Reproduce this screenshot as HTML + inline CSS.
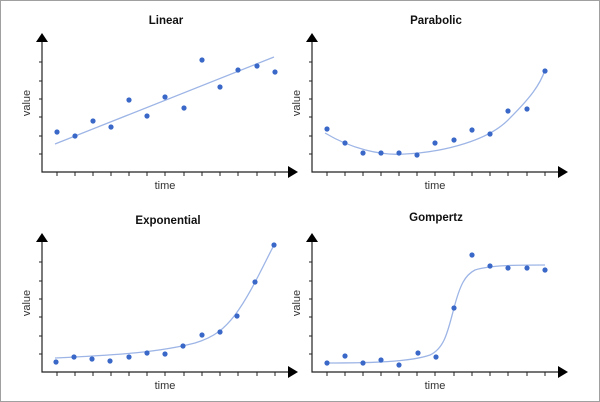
<!DOCTYPE html><html><head><style>body{margin:0;background:#fff}svg{display:block}text{font-family:"Liberation Sans",sans-serif}</style></head><body>
<svg width="600" height="402" viewBox="0 0 600 402">
<rect x="0.5" y="0.5" width="599" height="401" fill="#fff" stroke="#a0a0a0"/>
<defs>
<g id="ax">
<path d="M42 40V172H290" fill="none" stroke="#222" stroke-width="1.2"/>
<path d="M36 42L42 33L48 42Z M288 166L298 172L288 178Z" fill="#000"/>
<g stroke="#222" stroke-width="1">
<path d="M42 62h-3M42 81h-3M42 99h-3M42 117h-3M42 136h-3M42 154h-3"/>
<path d="M57 172v4M75 172v4M93 172v4M111 172v4M129 172v4M147 172v4M165 172v4M184 172v4M202 172v4M220 172v4M238 172v4M257 172v4M275 172v4"/>
</g>
<text x="165" y="189" font-size="11" text-anchor="middle" fill="#333">time</text>
<text transform="translate(30 103) rotate(-90)" font-size="11" text-anchor="middle" fill="#333">value</text>
</g>
</defs>
<g fill="#3a68c8">
<use href="#ax"/>
<text x="166" y="24" font-size="11.5" font-weight="bold" text-anchor="middle" fill="#111">Linear</text>
<path d="M55 144L274 57" stroke="#9db5e6" stroke-width="1.3" fill="none"/>
<circle cx="57" cy="132" r="2.6"/><circle cx="75" cy="136" r="2.6"/><circle cx="93" cy="121" r="2.6"/><circle cx="111" cy="127" r="2.6"/><circle cx="129" cy="100" r="2.6"/><circle cx="147" cy="116" r="2.6"/><circle cx="165" cy="97" r="2.6"/><circle cx="184" cy="108" r="2.6"/><circle cx="202" cy="60" r="2.6"/><circle cx="220" cy="87" r="2.6"/><circle cx="238" cy="70" r="2.6"/><circle cx="257" cy="66" r="2.6"/><circle cx="275" cy="72" r="2.6"/>
</g>
<g fill="#3a68c8" transform="translate(270 0)">
<use href="#ax"/>
<text x="166" y="24" font-size="11.5" font-weight="bold" text-anchor="middle" fill="#111">Parabolic</text>
<path d="M55 133C80 148 110 156 135 154C175 152 220 140 240 118C260 98 270 85 275 70" stroke="#9db5e6" stroke-width="1.3" fill="none"/>
<circle cx="57" cy="129" r="2.6"/><circle cx="75" cy="143" r="2.6"/><circle cx="93" cy="153" r="2.6"/><circle cx="111" cy="153" r="2.6"/><circle cx="129" cy="153" r="2.6"/><circle cx="147" cy="155" r="2.6"/><circle cx="165" cy="143" r="2.6"/><circle cx="184" cy="140" r="2.6"/><circle cx="202" cy="130" r="2.6"/><circle cx="220" cy="134" r="2.6"/><circle cx="238" cy="111" r="2.6"/><circle cx="257" cy="109" r="2.6"/><circle cx="275" cy="71" r="2.6"/>
</g>
<g fill="#3a68c8" transform="translate(0 200)">
<use href="#ax"/>
<text x="168" y="24" font-size="11.5" font-weight="bold" text-anchor="middle" fill="#111">Exponential</text>
<path d="M55 158C120 155 160 152 195 143C215 137 225 128 235 115C250 95 262 68 274 45" stroke="#9db5e6" stroke-width="1.3" fill="none"/>
<circle cx="56" cy="162" r="2.6"/><circle cx="74" cy="157" r="2.6"/><circle cx="92" cy="159" r="2.6"/><circle cx="110" cy="161" r="2.6"/><circle cx="129" cy="157" r="2.6"/><circle cx="147" cy="153" r="2.6"/><circle cx="165" cy="154" r="2.6"/><circle cx="183" cy="146" r="2.6"/><circle cx="202" cy="135" r="2.6"/><circle cx="220" cy="132" r="2.6"/><circle cx="237" cy="116" r="2.6"/><circle cx="255" cy="82" r="2.6"/><circle cx="274" cy="45" r="2.6"/>
</g>
<g fill="#3a68c8" transform="translate(270 200)">
<use href="#ax"/>
<text x="166" y="21" font-size="11.5" font-weight="bold" text-anchor="middle" fill="#111">Gompertz</text>
<path d="M57 163C100 163 140 162 160 155C175 148 178 130 184 108C190 85 195 75 205 70C220 65 250 65 275 65" stroke="#9db5e6" stroke-width="1.3" fill="none"/>
<circle cx="57" cy="163" r="2.6"/><circle cx="75" cy="156" r="2.6"/><circle cx="93" cy="163" r="2.6"/><circle cx="111" cy="160" r="2.6"/><circle cx="129" cy="165" r="2.6"/><circle cx="148" cy="153" r="2.6"/><circle cx="166" cy="157" r="2.6"/><circle cx="184" cy="108" r="2.6"/><circle cx="202" cy="55" r="2.6"/><circle cx="220" cy="66" r="2.6"/><circle cx="238" cy="68" r="2.6"/><circle cx="257" cy="68" r="2.6"/><circle cx="275" cy="70" r="2.6"/>
</g>
</svg></body></html>
